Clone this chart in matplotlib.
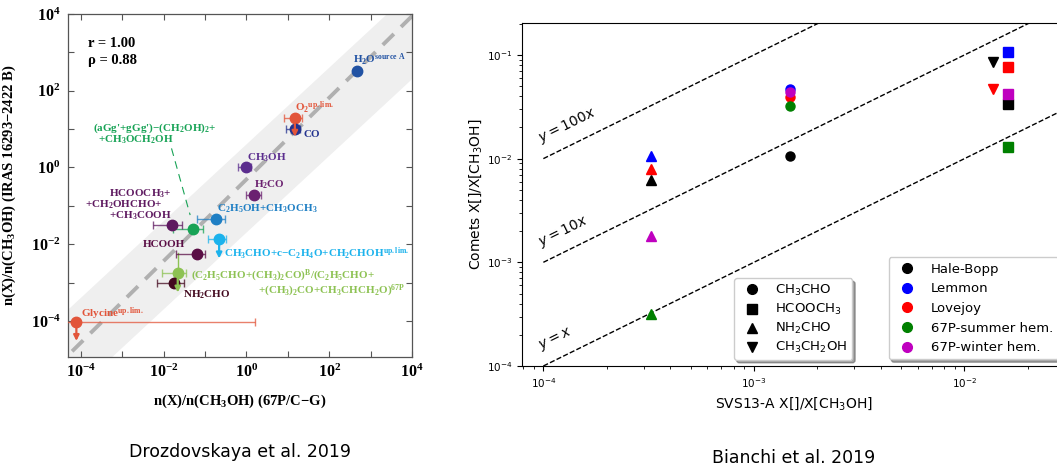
import numpy as np
import matplotlib
matplotlib.use("Agg")
import matplotlib.pyplot as plt
from matplotlib.colors import to_rgba
from matplotlib.lines import Line2D

# bold Times-like mathtext for the left (paper) panel; right panel overrides per text
plt.rcParams["mathtext.fontset"] = "custom"
plt.rcParams["mathtext.rm"] = "Liberation Serif:bold"
plt.rcParams["mathtext.it"] = "Liberation Serif:italic:bold"
plt.rcParams["mathtext.bf"] = "Liberation Serif:bold"

# ---------------- left panel: Drozdovskaya et al. 2019 ----------------
species = [
    "H2O", "O2", "CO", "CH3OH", "H2CO", "C2H5OH+CH3OCH3", "aGg-glycol",
    "HCOOCH3-group", "CH3CHO-group", "HCOOH", "C2H5CHO-group", "NH2CHO", "Glycine",
]
ratio_67p = [479, 14.8, 14.8, 1.0, 1.51, 0.184, 0.050, 0.0155, 0.219, 0.063, 0.0219, 0.0178, 7.8e-5]
ratio_iras = [331, 20.0, 10.2, 1.0, 0.195, 0.046, 0.0245, 0.031, 0.0135, 0.0055, 0.00174, 0.00095, 9.5e-5]
err_lo_67p = [np.nan, 8.1, 8.9, 0.62, 1.0, 0.065, 0.017, 0.0054, 0.12, 0.020, 0.0089, 0.0068, 1e-5]
err_hi_67p = [np.nan, 21.9, 20.0, 1.29, 2.3, 0.31, 0.087, 0.0275, 0.33, 0.10, 0.0347, 0.031, 1.62]
species_colors = [
    "#2152a3", "#e2553a", "#24338f", "#5b2d8e", "#6b2170", "#1f7fc4", "#18a356",
    "#5e1960", "#1bb2ec", "#5a0e45", "#8dc253", "#43091f", "#e2553a",
]
upper_limit = [False, True, False, False, False, False, False, False, True, False, True, False, True]
blend_vline_top = 5.9e-3   # vertical bar above the (C2H5CHO...) point

# log-log fit line and shaded band
fit_slope, fit_offset = 1.064, -0.31
band_lo, band_hi = -1.7, 0.6

# ---------------- right panel: Bianchi et al. 2019 ----------------
molecules = ["CH$_3$CHO", "HCOOCH$_3$", "NH$_2$CHO", "CH$_3$CH$_2$OH"]
mol_markers = ["o", "s", "^", "v"]
svs13_abund = [1.49e-3, 1.61e-2, 3.25e-4, 1.36e-2]
comets = ["Hale-Bopp", "Lemmon", "Lovejoy", "67P-summer hem.", "67P-winter hem."]
comet_colors = ["k", "b", "r", "g", "m"]
# rows: molecules, cols: comets
comet_abund = [
    [0.0105, 0.047, 0.039, 0.032, 0.044],
    [0.034, 0.107, 0.077, 0.013, 0.042],
    [6.2e-3, 1.07e-2, 8.0e-3, 3.2e-4, 1.8e-3],
    [0.085, np.nan, 0.047, np.nan, np.nan],
]
line_factors = [1, 10, 100]
line_labels = ["$y = x$", "$y = 10x$", "$y = 100x$"]

SERIF = "Liberation Serif"
MINUS = "\u2212"


def draw_left(fig):
    ax = fig.add_axes([0.0640, 0.2323, 0.3258, 0.7376])
    ax.set_xscale("log")
    ax.set_yscale("log")
    ax.set_xlim(4.8e-5, 1e4)
    ax.set_ylim(1.15e-5, 1e4)

    xs = np.logspace(-6, 6, 50)
    ax.fill_between(xs, xs * 10 ** band_lo, xs * 10 ** band_hi, color="#efefef", lw=0, zorder=0)
    ax.plot(xs, 10 ** (fit_slope * np.log10(xs) + fit_offset), color="#b0b0b0", lw=2.8,
            ls=(0, (4, 2.6)), zorder=1)

    for i in range(len(species)):
        c = species_colors[i]
        x, y = ratio_67p[i], ratio_iras[i]
        if np.isfinite(err_lo_67p[i]):
            xerr = [[x - err_lo_67p[i]], [err_hi_67p[i] - x]]
        else:
            xerr = None
        ax.errorbar(x, y, xerr=xerr, fmt="o", ms=7.5, color=c, mec=c,
                    ecolor=to_rgba(c, 0.75), elinewidth=1, capsize=3, capthick=1, zorder=3)
        if species[i] == "C2H5CHO-group":
            ax.plot([x, x], [y, blend_vline_top], color=c, lw=1, zorder=2)
        if upper_limit[i]:
            ax.annotate("", xy=(x, y * 10 ** -0.5), xytext=(x, y),
                        arrowprops=dict(arrowstyle="-|>", color=c, lw=1.6, mutation_scale=8,
                                        shrinkA=0, shrinkB=0), zorder=5)

    # labels: (text, x, y, colour, ha)
    labels = [
        (r"H$_2$O$^{\rm source\ A}$", 380, 708, species_colors[0], "left"),
        (r"O$_2$$^{\rm up.lim.}$", 15.0, 40, species_colors[1], "left"),
        ("CO", 23.4, 7.9, species_colors[2], "left"),
        ("CH$_3$OH", 1.03, 1.98, species_colors[3], "left"),
        ("H$_2$CO", 1.53, 0.39, species_colors[4], "left"),
        ("C$_2$H$_5$OH+CH$_3$OCH$_3$", 0.195, 0.093, species_colors[5], "left"),
        ("(aGg'+gGg')" + MINUS + "(CH$_2$OH)$_2$+", 1.95e-4, 12, species_colors[6], "left"),
        ("+CH$_3$OCH$_2$OH", 2.57e-4, 5.8, species_colors[6], "left"),
        ("HCOOCH$_3$+", 0.0159, 0.229, species_colors[7], "right"),
        ("+CH$_2$OHCHO+", 0.0096, 0.117, species_colors[7], "right"),
        ("+CH$_3$COOH", 0.0159, 0.0617, species_colors[7], "right"),
        ("HCOOH", 0.00316, 0.0107, species_colors[9], "left"),
        ("CH$_3$CHO+c" + MINUS + r"C$_2$H$_4$O+CH$_2$CHOH$^{\rm up.lim.}$", 0.287, 0.0063,
         species_colors[8], "left"),
        (r"(C$_2$H$_5$CHO+(CH$_3$)$_2$CO)$^{\rm B}$/(C$_2$H$_5$CHO+", 0.0457, 0.00175,
         species_colors[10], "left"),
        (r"+(CH$_3$)$_2$CO+CH$_3$CHCH$_2$O)$^{\rm 67P}$", 6840, 7.2e-4, species_colors[10], "right"),
        ("NH$_2$CHO", 0.0295, 5.2e-4, species_colors[11], "left"),
        (r"Glycine$^{\rm up.lim.}$", 1.0e-4, 1.82e-4, species_colors[12], "left"),
    ]
    for txt, x, y, c, ha in labels:
        ax.text(x, y, txt, color=c, ha=ha, va="center_baseline", fontsize=8,
                fontfamily=SERIF, fontweight="bold", zorder=6)
    ax.plot([0.0155, 0.0437], [3.14, 0.0575], color=species_colors[6], lw=0.8,
            ls=(0, (7, 5)), zorder=2)

    ax.text(0.059, 0.915, "r = 1.00", transform=ax.transAxes, fontsize=10.5,
            fontfamily=SERIF, fontweight="bold", va="center")
    ax.text(0.059, 0.863, "\u03c1 = 0.88", transform=ax.transAxes, fontsize=10.5,
            fontfamily=SERIF, fontweight="bold", va="center")

    dec = list(range(-4, 5))
    ticks = [10.0 ** k for k in dec]
    tlabels = [r"$\mathdefault{10^{%d}}$" % k if k % 2 == 0 else "" for k in dec]
    ax.set_xticks(ticks, tlabels, fontsize=11.5, fontfamily=SERIF, fontweight="bold")
    ax.set_yticks(ticks, tlabels, fontsize=11.5, fontfamily=SERIF, fontweight="bold")
    ax.minorticks_off()
    ax.tick_params(direction="in", top=True, right=True, length=4, width=0.8,
                   color="#555555", pad=5)
    for s in ax.spines.values():
        s.set_color("#555555")
        s.set_linewidth(0.9)

    ax.set_xlabel("n(X)/n(CH$_3$OH) (67P/C" + MINUS + "G)", fontsize=10.5, fontfamily=SERIF,
                  fontweight="bold", labelpad=8)
    ax.set_ylabel("n(X)/n(CH$_3$OH) (IRAS 16293" + MINUS + "2422 B)", fontsize=10.5,
                  fontfamily=SERIF, fontweight="bold", labelpad=9)


def draw_right(fig):
    # axes runs past the right border of the figure, as in the reference crop
    ax = fig.add_axes([0.4941, 0.2129, 0.5134, 0.737])
    ax.set_xscale("log")
    ax.set_yscale("log")
    ax.set_xlim(7.94e-5, 3.0e-2)
    ax.set_ylim(1e-4, 0.202)

    xs = np.array([1e-4, 1.0])
    for f, lbl in zip(line_factors, line_labels):
        ax.plot(xs, f * xs, "k--", lw=1)
        ax.text(1.0e-4, f * 1.0e-4 * 1.3, lbl, rotation=26.2, rotation_mode="anchor",
                ha="left", va="bottom", fontsize=10, math_fontfamily="dejavusans")

    for j, mk in enumerate(mol_markers):
        for k, c in enumerate(comet_colors):
            v = comet_abund[j][k]
            if np.isnan(v):
                continue
            ax.plot(svs13_abund[j], v, marker=mk, ls="none", color=c, ms=6.5)

    h1 = [Line2D([], [], marker=m, color="k", ls="none", ms=7) for m in mol_markers]
    leg1 = ax.legend(h1, molecules, loc="lower left", bbox_to_anchor=(0.39, 0.0175),
                     borderaxespad=0, shadow=True, fontsize=9.5, labelspacing=0.3,
                     borderpad=0.35)
    for t in leg1.get_texts():
        t.set_math_fontfamily("dejavusans")
    ax.add_artist(leg1)
    h2 = [Line2D([], [], marker="o", color=c, ls="none", ms=7) for c in comet_colors]
    ax.legend(h2, comets, loc="lower right", shadow=True, fontsize=9.5, labelspacing=0.5,
              borderpad=0.4)

    ax.tick_params(labelsize=7.5)
    ax.set_xlabel("SVS13-A X[]/X[CH$_3$OH]", fontsize=10, math_fontfamily="dejavusans")
    ax.set_ylabel("Comets X[]/X[CH$_3$OH]", fontsize=10, math_fontfamily="dejavusans",
                  labelpad=2)


fig = plt.figure(figsize=(10.57, 4.65), dpi=100)
draw_left(fig)
draw_right(fig)
fig.text(0.227, 1 - 452 / 465, "Drozdovskaya et al. 2019", ha="center", va="center", fontsize=12.5)
fig.text(0.751, 1 - 458 / 465, "Bianchi et al. 2019", ha="center", va="center", fontsize=12.5)
fig.savefig("out.png", dpi=100)
